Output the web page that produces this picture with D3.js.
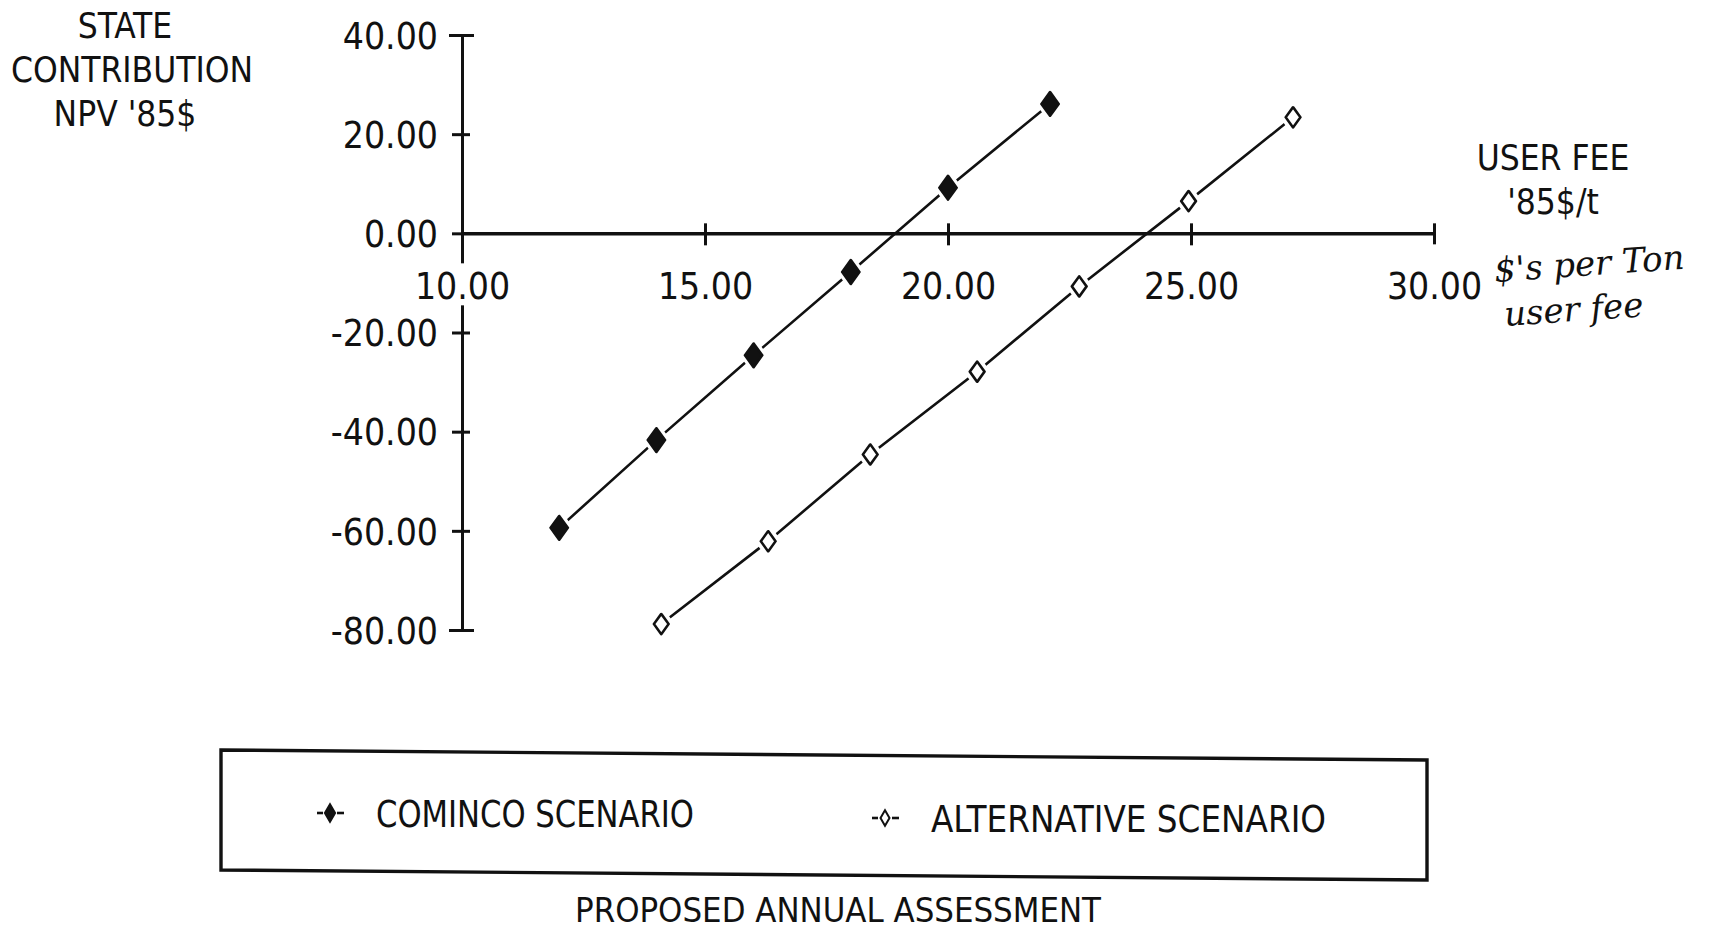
<!DOCTYPE html>
<html>
<head>
<meta charset="utf-8">
<script src="https://cdn.jsdelivr.net/npm/d3@7"></script>
<style>
  html, body { margin: 0; padding: 0; background: #fff; }
  svg { display: block; }
  text { font-family: "DejaVu Sans", sans-serif; font-stretch: condensed; fill: #111; }
  .hand { font-family: "DejaVu Serif", serif; font-style: italic; font-stretch: normal; }
</style>
</head>
<body>
<svg id="chart" width="1735" height="932"></svg>
<script>
// User fee ('85$/t) and state contribution (NPV '85$) for each scenario
const cominocoFee = [12.0, 14.0, 16.0, 18.0, 20.0, 22.1];
const cominocoNpv = [-59.4, -41.7, -24.6, -7.8, 9.2, 26.1];
const alternativeFee = [14.1, 16.3, 18.4, 20.6, 22.7, 24.95, 27.1];
const alternativeNpv = [-78.8, -62.1, -44.6, -27.9, -10.7, 6.5, 23.4];

const xTicks = [10, 15, 20, 25, 30];
const yTicks = [40, 20, 0, -20, -40, -60, -80];
const seriesNames = ["COMINCO SCENARIO", "ALTERNATIVE SCENARIO"];
const yTitle = ["STATE", "CONTRIBUTION", "NPV '85$"];
const xTitle = ["USER FEE", "'85$/t"];
const note = ["$'s per Ton", "user fee"];
const caption = "PROPOSED ANNUAL ASSESSMENT";

const svg = d3.select("#chart");
const ink = "#111";
const fmt = d3.formatLocale({ decimal: ".", thousands: ",", grouping: [3], currency: ["$", ""], minus: "-" }).format(".2f");

const x = d3.scaleLinear().domain([10, 30]).range([462, 1434]);
const y = d3.scaleLinear().domain([-80, 40]).range([630, 35]);

// Vertical axis with ticks crossing the line
const yAxis = d3.axisLeft(y).tickValues(yTicks).tickSizeInner(0).tickSizeOuter(0).tickFormat(fmt);
const gy = svg.append("g").attr("transform", `translate(${x(10)},0)`).call(yAxis);
gy.select(".domain").attr("stroke", ink).attr("stroke-width", 3);
gy.selectAll(".tick line").remove();
gy.selectAll(".tick").append("line")
  .attr("x1", -10).attr("x2", d => d === 0 ? 0 : 8).attr("stroke", ink).attr("stroke-width", 3);
gy.selectAll(".tick").filter(d => d === 40 || d === -80).select("line").attr("x1", -13).attr("x2", 12);
gy.selectAll(".tick text").attr("x", -24).attr("dy", "0.36em")
  .style("font-size", "37px").attr("fill", ink);

// Horizontal axis along zero
const xAxis = d3.axisBottom(x).tickValues(xTicks).tickSizeInner(0).tickSizeOuter(0).tickFormat(fmt);
const gx = svg.append("g").attr("transform", `translate(0,${y(0)})`).call(xAxis);
gx.select(".domain").attr("stroke", ink).attr("stroke-width", 3.5);
gx.selectAll(".tick line").remove();
gx.selectAll(".tick").filter(d => d !== 10).append("line")
  .attr("y1", -10).attr("y2", d => d === 30 ? 11 : 12).attr("stroke", ink).attr("stroke-width", 3);
// label at the origin sits on a white patch that breaks the vertical axis
gx.selectAll(".tick").filter(d => d === 10).insert("rect", "text")
  .attr("x", -44).attr("y", 30).attr("width", 88).attr("height", 42).attr("fill", "#fff");
gx.selectAll(".tick text").attr("y", 66).attr("dy", 0)
  .style("font-size", "37px").attr("fill", ink);

// Axis titles
const yTitleX = [125, 132, 125];
svg.append("g").selectAll("text").data(yTitle).join("text")
  .attr("x", (d, i) => yTitleX[i]).attr("y", (d, i) => 38 + i * 44)
  .attr("text-anchor", "middle").style("font-size", "35px").text(d => d);
svg.append("g").selectAll("text").data(xTitle).join("text")
  .attr("x", 1553).attr("y", (d, i) => 170 + i * 44)
  .attr("text-anchor", "middle").style("font-size", "35px").text(d => d);

// Pen note beside the fee axis
svg.append("g").selectAll("text").data(note).join("text")
  .attr("class", "hand")
  .attr("x", (d, i) => 1495 + i * 10).attr("y", (d, i) => 282 + i * 44)
  .attr("transform", (d, i) => `rotate(-4 ${1495 + i * 10} ${282 + i * 44})`)
  .style("font-size", "34px").text(d => d);

// Series lines and diamond markers
const series = [
  { fee: cominocoFee, npv: cominocoNpv, filled: true },
  { fee: alternativeFee, npv: alternativeNpv, filled: false }
];
const line = d3.line().x(d => x(d[0])).y(d => y(d[1]));
const diamond = d3.symbol().type(d3.symbolDiamond);

series.forEach(s => {
  const pts = s.fee.map((f, i) => [f, s.npv[i]]);
  svg.append("path").datum(pts).attr("d", line)
    .attr("fill", "none").attr("stroke", ink).attr("stroke-width", 2.6);
  const g = svg.append("g");
  // white halo keeps the line clear of each marker
  g.selectAll("path.halo").data(pts).join("path").attr("class", "halo")
    .attr("transform", d => `translate(${x(d[0])},${y(d[1])}) scale(1.25,1)`)
    .attr("d", diamond.size(s.filled ? 440 : 400)())
    .attr("fill", "#fff").attr("stroke", "none");
  g.selectAll("path.mark").data(pts).join("path").attr("class", "mark")
    .attr("transform", d => `translate(${x(d[0])},${y(d[1])}) scale(1.25,1)`)
    .attr("d", diamond.size(s.filled ? 170 : 120)())
    .attr("fill", s.filled ? ink : "#fff").attr("stroke", ink)
    .attr("stroke-width", s.filled ? 2 : 2.2).attr("stroke-linejoin", "round");
});

// Legend box
svg.append("path")
  .attr("d", "M221,750 L1427,760 L1427,880 L221,870 Z")
  .attr("fill", "none").attr("stroke", ink).attr("stroke-width", 3.4);

const legendX = [330, 885];
const legendY = [813, 818];
const legendW = [318, 395];
seriesNames.forEach((name, i) => {
  const g = svg.append("g").attr("transform", `translate(${legendX[i]},${legendY[i]})`);
  g.append("line").attr("x1", -13).attr("x2", -7).attr("stroke", ink).attr("stroke-width", 2.6);
  g.append("line").attr("x1", 7).attr("x2", 14).attr("stroke", ink).attr("stroke-width", 2.6);
  g.append("path").attr("d", d3.symbol().type(d3.symbolDiamond).size(i === 0 ? 90 : 70)())
    .attr("fill", i === 0 ? ink : "#fff").attr("stroke", ink).attr("stroke-width", 2);
  g.append("text").attr("x", 46).attr("y", 14).style("font-size", "37px")
    .attr("textLength", legendW[i]).attr("lengthAdjust", "spacingAndGlyphs")
    .text(name);
});

svg.append("text").attr("x", 838).attr("y", 922).attr("text-anchor", "middle")
  .style("font-size", "34px")
  .attr("textLength", 526).attr("lengthAdjust", "spacingAndGlyphs")
  .text(caption);
</script>
</body>
</html>
